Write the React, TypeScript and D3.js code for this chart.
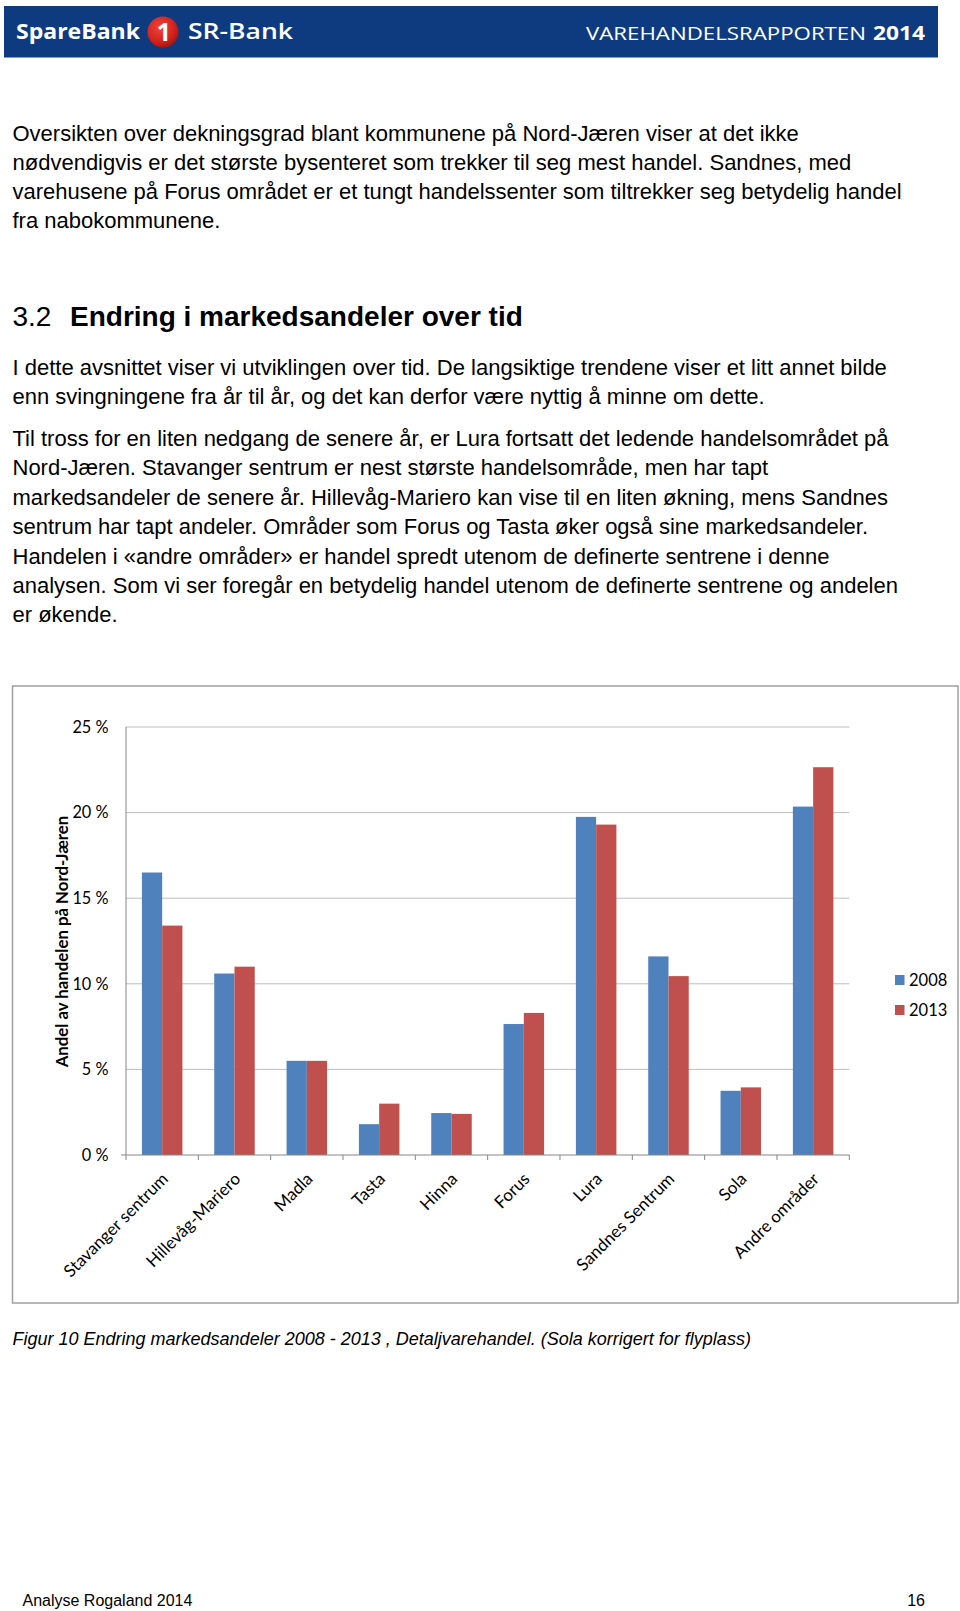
import React from "react";
import * as d3 from "d3";

const categories = [
  "Stavanger sentrum",
  "Hillevåg-Mariero",
  "Madla",
  "Tasta",
  "Hinna",
  "Forus",
  "Lura",
  "Sandnes Sentrum",
  "Sola",
  "Andre områder",
];
const series2008 = [16.5, 10.6, 5.5, 1.8, 2.45, 7.65, 19.75, 11.6, 3.75, 20.35];
const series2013 = [13.4, 11.0, 5.5, 3.0, 2.4, 8.3, 19.3, 10.45, 3.95, 22.65];
const seriesNames = ["2008", "2013"];
const seriesColors = ["#4f81bd", "#c0504d"];
const yTicks = [0, 5, 10, 15, 20, 25];
const yTickLabels = ["0 %", "5 %", "10 %", "15 %", "20 %", "25 %"];
const yAxisTitle = "Andel av handelen på Nord-Jæren";

const para1 = [
  "Oversikten over dekningsgrad blant kommunene på Nord-Jæren viser at det ikke",
  "nødvendigvis er det største bysenteret som trekker til seg mest handel. Sandnes, med",
  "varehusene på Forus området er et tungt handelssenter som tiltrekker seg betydelig handel",
  "fra nabokommunene.",
];
const headingNum = "3.2";
const headingText = "Endring i markedsandeler over tid";
const para2 = [
  "I dette avsnittet viser vi utviklingen over tid. De langsiktige trendene viser et litt annet bilde",
  "enn svingningene fra år til år, og det kan derfor være nyttig å minne om dette.",
];
const para3 = [
  "Til tross for en liten nedgang de senere år, er Lura fortsatt det ledende handelsområdet på",
  "Nord-Jæren. Stavanger sentrum er nest største handelsområde, men har tapt",
  "markedsandeler de senere år. Hillevåg-Mariero kan vise til en liten økning, mens Sandnes",
  "sentrum har tapt andeler. Områder som Forus og Tasta øker også sine markedsandeler.",
  "Handelen i «andre områder» er handel spredt utenom de definerte sentrene i denne",
  "analysen. Som vi ser foregår en betydelig handel utenom de definerte sentrene og andelen",
  "er økende.",
];
const caption =
  "Figur 10 Endring markedsandeler 2008 - 2013 , Detaljvarehandel. (Sola korrigert for flyplass)";
const footerLeft = "Analyse Rogaland 2014";
const footerRight = "16";

const W = 960;
const H = 1611;
const bodyFont = "'Liberation Sans', Arial, sans-serif";
const chartFont = "Lato, 'Open Sans', sans-serif";

export default function App() {
  const x0 = d3
    .scaleBand<string>()
    .domain(categories)
    .range([126, 849.3])
    .paddingInner(0.44)
    .paddingOuter(0.22);
  const x1 = d3
    .scaleBand<string>()
    .domain(seriesNames)
    .range([0, x0.bandwidth()])
    .padding(0);
  const y = d3.scaleLinear().domain([0, 25]).range([1155, 727]);
  const step = x0.step();
  const plotLeft = 126;
  const plotRight = 849.3;
  const seriesData = [series2008, series2013];

  const bodyLines = (lines: string[], y0: number, dy: number) =>
    lines.map((t, i) => (
      <text key={t} x={12.5} y={y0 + i * dy} fontSize={22} fontFamily={bodyFont} fill="#000">
        {t}
      </text>
    ));

  return (
    <svg
      width={W}
      height={H}
      viewBox={`0 0 ${W} ${H}`}
      style={{ position: "absolute", left: 0, top: 0, display: "block", background: "#fff" }}
    >
      <rect x={0} y={0} width={W} height={H} fill="#fff" />
      {/* Header band */}
      <rect x={4} y={6} width={934} height={51.5} fill="#0e3b80" />
      <text
        x={16}
        y={38.5}
        fontSize={22}
        fontWeight="bold"
        fontFamily="'Open Sans', sans-serif"
        fill="#fff"
        textLength={124}
        lengthAdjust="spacingAndGlyphs"
      >
        SpareBank
      </text>
      <defs>
        <radialGradient id="logoG" cx="0.4" cy="0.35" r="0.7">
          <stop offset="0" stopColor="#f0453a" />
          <stop offset="0.7" stopColor="#d0201a" />
          <stop offset="1" stopColor="#9c1410" />
        </radialGradient>
      </defs>
      <circle cx={163} cy={32} r={15.5} fill="url(#logoG)" />
      <text
        x={164}
        y={40.5}
        textAnchor="middle"
        fontSize={25}
        fontWeight="bold"
        fontFamily="'Open Sans', sans-serif"
        fill="#fff"
      >
        1
      </text>
      <text
        x={188}
        y={38.5}
        fontSize={22}
        fontFamily="'Open Sans', sans-serif"
        fontWeight="600"
        fill="#fff"
        textLength={105}
        lengthAdjust="spacingAndGlyphs"
      >
        SR-Bank
      </text>
      <text
        x={586}
        y={40}
        fontSize={19}
        fontFamily="'Open Sans', sans-serif"
        fill="#fff"
        textLength={280}
        lengthAdjust="spacingAndGlyphs"
      >
        VAREHANDELSRAPPORTEN
      </text>
      <text
        x={873}
        y={40}
        fontSize={19}
        fontWeight="bold"
        fontFamily="'Open Sans', sans-serif"
        fill="#fff"
        textLength={52}
        lengthAdjust="spacingAndGlyphs"
      >
        2014
      </text>

      {/* Body text */}
      {bodyLines(para1, 140.5, 29.2)}
      <text x={12.5} y={326} fontSize={28} fontFamily={bodyFont} fill="#000">
        {headingNum}
      </text>
      <text x={70} y={326} fontSize={28} fontWeight="bold" fontFamily={bodyFont} fill="#000">
        {headingText}
      </text>
      {bodyLines(para2, 374.8, 29.3)}
      {bodyLines(para3, 445.7, 29.45)}

      {/* Chart frame */}
      <rect x={12.5} y={686} width={945.5} height={617} fill="#fff" stroke="#a0a0a0" strokeWidth={1.5} />

      {/* Gridlines */}
      {yTicks.map((t) =>
        t === 0 ? null : (
          <line key={t} x1={plotLeft} x2={plotRight} y1={y(t)} y2={y(t)} stroke="#bdbdbd" strokeWidth={1} />
        )
      )}
      {/* Y tick labels */}
      {yTicks.map((t, i) => (
        <text
          key={"yl" + t}
          x={108.5}
          y={y(t)}
          dy="0.35em"
          textAnchor="end"
          fontSize={16.3}
          fontFamily={chartFont}
          fill="#000"
        >
          {yTickLabels[i]}
        </text>
      ))}
      {/* Y axis title */}
      <text
        transform={`translate(62,941.5) rotate(-90)`}
        textAnchor="middle"
        dy="0.35em"
        fontSize={16.8}
        fontWeight="bold"
        fontFamily={chartFont}
        fill="#000"
      >
        {yAxisTitle}
      </text>

      {/* Bars */}
      {categories.map((c, ci) => (
        <g key={c} transform={`translate(${x0(c)},0)`}>
          {seriesNames.map((s, si) => (
            <rect
              key={s}
              x={x1(s)}
              y={y(seriesData[si][ci])}
              width={x1.bandwidth()}
              height={y(0) - y(seriesData[si][ci])}
              fill={seriesColors[si]}
            />
          ))}
        </g>
      ))}

      {/* Axes */}
      <line x1={plotLeft} x2={plotLeft} y1={y(25)} y2={y(0)} stroke="#868686" strokeWidth={1} />
      <line x1={121} x2={plotRight} y1={y(0)} y2={y(0)} stroke="#868686" strokeWidth={1} />
      {d3.range(categories.length + 1).map((i) => (
        <line
          key={"xt" + i}
          x1={plotLeft + i * step}
          x2={plotLeft + i * step}
          y1={y(0)}
          y2={y(0) + 5}
          stroke="#868686"
          strokeWidth={1}
        />
      ))}
      {/* Category labels */}
      {categories.map((c) => {
        const cx = (x0(c) as number) + x0.bandwidth() / 2;
        return (
          <text
            key={"cl" + c}
            transform={`translate(${cx + 7},${1180}) rotate(-45)`}
            textAnchor="end"
            fontSize={17}
            fontFamily={chartFont}
            fill="#000"
          >
            {c}
          </text>
        );
      })}

      {/* Legend */}
      {seriesNames.map((s, i) => (
        <g key={"lg" + s}>
          <rect x={895} y={975 + i * 30} width={9.5} height={10} fill={seriesColors[i]} />
          <text x={909} y={980 + i * 30} dy="0.35em" fontSize={16.5} fontFamily={chartFont} fill="#000">
            {s}
          </text>
        </g>
      ))}

      {/* Caption */}
      <text x={12.5} y={1345} fontSize={18} fontStyle="italic" fontFamily={bodyFont} fill="#000">
        {caption}
      </text>

      {/* Footer */}
      <text x={22.5} y={1606} fontSize={16} fontFamily={bodyFont} fill="#000">
        {footerLeft}
      </text>
      <text x={925} y={1606} textAnchor="end" fontSize={16} fontFamily={bodyFont} fill="#000">
        {footerRight}
      </text>
    </svg>
  );
}
